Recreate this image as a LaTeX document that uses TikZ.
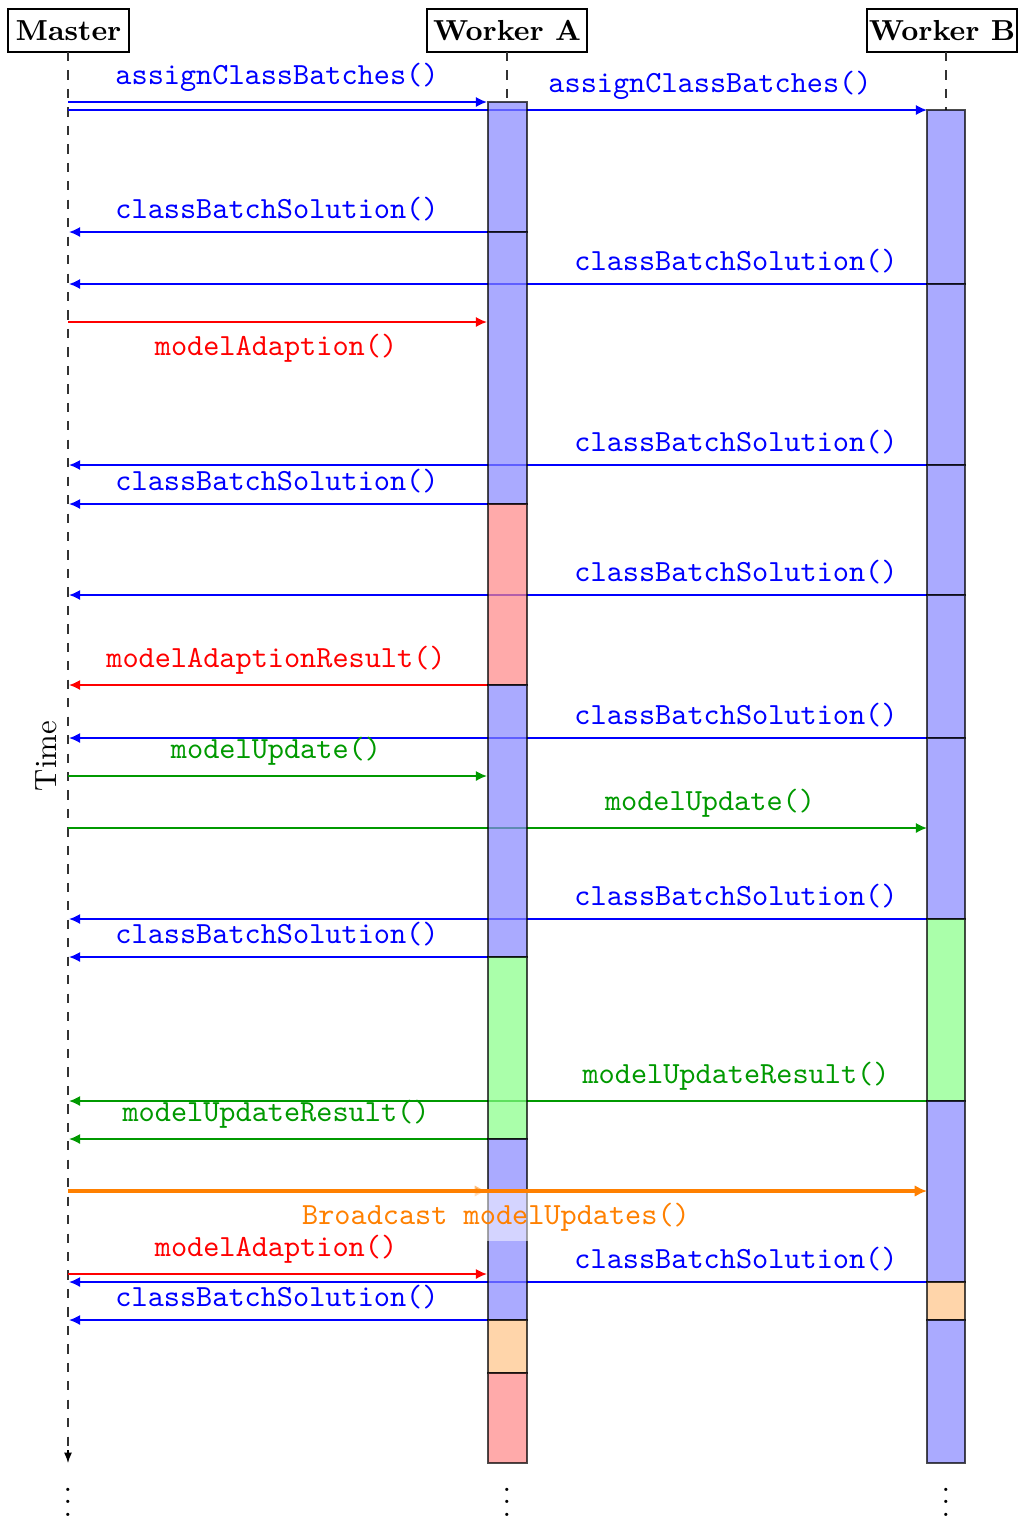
\documentclass[tikz,border=0pt]{standalone}
\usetikzlibrary{arrows.meta}
\definecolor{bbar}{RGB}{134,134,255}
\definecolor{rbar}{RGB}{255,134,134}
\definecolor{gbar}{RGB}{134,255,134}
\definecolor{obar}{RGB}{255,195,134}
\definecolor{mgreen}{RGB}{0,153,0}
\definecolor{morange}{RGB}{255,128,0}
\begin{document}
\begin{tikzpicture}[x=0.325pt,y=-0.325pt,
  msg/.style={semithick,-{Latex[length=3.6pt,width=3.3pt]}},
  lbl/.style={font=\ttfamily},
  above lbl/.style={lbl,anchor=south},
  below lbl/.style={lbl,anchor=north},
  head/.style={draw,thin,font=\fontsize{9.4}{11}\selectfont\bfseries,minimum height=14pt,inner sep=0pt},
  lifeline/.style={dashed,thin,black!80},
  seg/.style={draw=black,draw opacity=0.7,fill opacity=0.7,semithick},
  bseg/.style={seg,fill=bbar},
  rseg/.style={seg,fill=rbar},
  gseg/.style={seg,fill=gbar},
  oseg/.style={seg,fill=obar},
  bcast/.style={line width=1pt,morange,-{Latex[length=4pt,width=3.8pt]}},
  dots/.style={anchor=base,font=\boldmath}]
\useasboundingbox (0,0) rectangle (1018,1517);

% headers
\node[head,minimum width=39.3pt] (master) at (68.5,30.5) {Master};
\node[head,minimum width=52pt] (wa) at (507,30.5) {Worker A};
\node[head,minimum width=48.75pt] (wb) at (942,30.5) {Worker B};

% lifelines
\coordinate (mStart) at (68,52);
\coordinate (mEnd) at (68,1463);
\coordinate (aTop) at (507,102);
\coordinate (bTop) at (946,110);
\draw[lifeline] (mStart) -- (68,1450);
\draw[thin,black,-{Latex[length=3.4pt,width=2.6pt]}] (68,1450) -- (mEnd);
\draw[lifeline] (507,52) -- (aTop);
\draw[lifeline] (946,52) -- (bTop);
\node[rotate=90] (time) at (46,756) {Time};

% messages (under the activation bars)
\draw[msg,blue] (68,102) -- (487,102);
\draw[msg,blue] (68,110) -- (927,110);
\draw[msg,blue] (488,232) -- (69,232);
\draw[msg,blue] (927,284) -- (69,284);
\draw[msg,red] (68,322) -- (487,322);
\draw[msg,blue] (927,465) -- (69,465);
\draw[msg,blue] (488,504) -- (69,504);
\draw[msg,blue] (927,595) -- (69,595);
\draw[msg,red] (488,685) -- (69,685);
\draw[msg,blue] (927,738) -- (69,738);
\draw[msg,mgreen] (68,776) -- (487,776);
\draw[msg,mgreen] (68,828) -- (927,828);
\draw[msg,blue] (927,919) -- (69,919);
\draw[msg,blue] (488,957) -- (69,957);
\draw[msg,mgreen] (927,1101) -- (69,1101);
\draw[msg,mgreen] (488,1139) -- (69,1139);
\draw[msg,red] (68,1274) -- (487,1274);
\draw[msg,blue] (927,1282) -- (69,1282);
\draw[msg,blue] (488,1320) -- (69,1320);

% activation bars Worker A
\path[bseg] (488,102) rectangle (527,232);
\path[bseg] (488,232) rectangle (527,504);
\path[rseg] (488,504) rectangle (527,685);
\path[bseg] (488,685) rectangle (527,957);
\path[gseg] (488,957) rectangle (527,1139);
\path[bseg] (488,1139) rectangle (527,1320);
\path[oseg] (488,1320) rectangle (527,1373);
\path[rseg] (488,1373) rectangle (527,1463);
% activation bars Worker B
\path[bseg] (927,110) rectangle (965,284);
\path[bseg] (927,284) rectangle (965,465);
\path[bseg] (927,465) rectangle (965,595);
\path[bseg] (927,595) rectangle (965,738);
\path[bseg] (927,738) rectangle (965,919);
\path[gseg] (927,919) rectangle (965,1101);
\path[bseg] (927,1101) rectangle (965,1282);
\path[oseg] (927,1282) rectangle (965,1320);
\path[bseg] (927,1320) rectangle (965,1463);

% broadcast
\draw[bcast,draw opacity=0.5,fill opacity=0.5] (68,1191) -- (487,1191);
\draw[bcast] (68,1191) -- (927,1191);
\node[below lbl,text=morange,fill=white,fill opacity=0.5,text opacity=1] (lbc) at (496,1192) {Broadcast modelUpdates()};

% labels
\node[above lbl,text=blue] (l1) at (277,102) {assignClassBatches()};
\node[above lbl,text=blue] (l2) at (710,110) {assignClassBatches()};
\node[above lbl,text=blue] (l3) at (277,232) {classBatchSolution()};
\node[above lbl,text=blue] (l4) at (736,284) {classBatchSolution()};
\node[below lbl,text=red] (l5) at (276,323) {modelAdaption()};
\node[above lbl,text=blue] (l6) at (736,465) {classBatchSolution()};
\node[above lbl,text=blue] (l7) at (277,504) {classBatchSolution()};
\node[above lbl,text=blue] (l8) at (736,595) {classBatchSolution()};
\node[above lbl,text=red] (l9) at (276,685) {modelAdaptionResult()};
\node[above lbl,text=blue] (l10) at (736,738) {classBatchSolution()};
\node[above lbl,text=mgreen] (l11) at (276,776) {modelUpdate()};
\node[above lbl,text=mgreen] (l12) at (710,828) {modelUpdate()};
\node[above lbl,text=blue] (l13) at (736,919) {classBatchSolution()};
\node[above lbl,text=blue] (l14) at (277,957) {classBatchSolution()};
\node[above lbl,text=mgreen] (l15) at (736,1101) {modelUpdateResult()};
\node[above lbl,text=mgreen] (l16) at (276,1139) {modelUpdateResult()};
\node[above lbl,text=red] (l18) at (276,1274) {modelAdaption()};
\node[above lbl,text=blue] (l19) at (736,1282) {classBatchSolution()};
\node[above lbl,text=blue] (l20) at (277,1320) {classBatchSolution()};

% continuation dots
\node[dots] (dm) at (68,1516) {$\vdots$};
\node[dots] (da) at (507,1516) {$\vdots$};
\node[dots] (db) at (946,1516) {$\vdots$};
\end{tikzpicture}
\end{document}
